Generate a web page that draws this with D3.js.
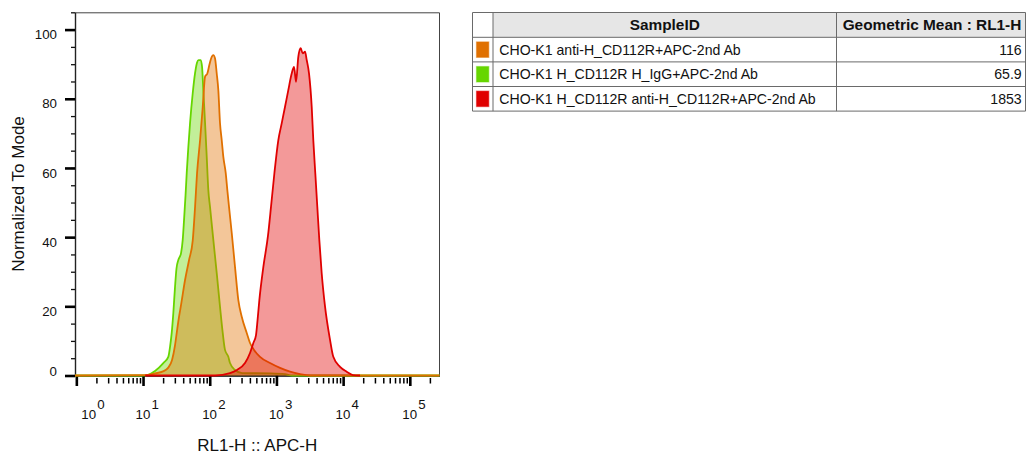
<!DOCTYPE html>
<html><head><meta charset="utf-8">
<script src="https://cdn.jsdelivr.net/npm/d3@7"></script>
<style>
html,body{margin:0;padding:0;background:#fff;}
svg{display:block;font-family:"Liberation Sans",Arial,Helvetica,sans-serif;}
</style></head><body>
<svg id="chart" width="1026" height="456"></svg>
<script>
// ---------- data ----------
const sampleIds = [
  "CHO-K1 anti-H_CD112R+APC-2nd Ab",
  "CHO-K1 H_CD112R H_IgG+APC-2nd Ab",
  "CHO-K1 H_CD112R anti-H_CD112R+APC-2nd Ab"
];
const geoMeans = ["116", "65.9", "1853"];
const sampleColors = ["#e07000", "#66d600", "#e00000"];
const drawOrder = [1, 0, 2];

// histogram bins: log10(RL1-H) positions and % of mode
const antiLog = [-0.02, 1.03, 1.18, 1.30, 1.375, 1.435, 1.48, 1.51, 1.54, 1.57, 1.63, 1.69, 1.745, 1.78, 1.81, 1.855, 1.895, 1.93, 1.964, 1.997, 2.03, 2.054, 2.079, 2.105, 2.129, 2.154, 2.18, 2.204, 2.24, 2.264, 2.289, 2.33, 2.379, 2.429, 2.48, 2.555, 2.604, 2.664, 2.754, 2.904, 3.054, 3.204, 3.354, 3.504, 5.445];
const antiPct = [0, 0.1, 0.6, 1.2, 2.2, 4.5, 8.8, 13, 17, 20.4, 27.6, 33.4, 39, 48.7, 58.5, 68, 77.6, 86.4, 87.3, 90, 92.1, 92.6, 91.7, 87.3, 82.5, 73, 68, 63.2, 58.5, 53.6, 48.8, 41.2, 31.4, 21.8, 17, 12.3, 9.4, 7.4, 5.4, 3.6, 2.2, 1.1, 0.4, 0, 0];

const iggLog = [-0.02, 1.0, 1.075, 1.18, 1.304, 1.379, 1.405, 1.43, 1.454, 1.48, 1.502, 1.529, 1.57, 1.595, 1.615, 1.637, 1.655, 1.679, 1.705, 1.745, 1.78, 1.81, 1.832, 1.865, 1.885, 1.904, 1.93, 1.955, 1.979, 2.004, 2.054, 2.105, 2.154, 2.195, 2.229, 2.279, 2.304, 2.379, 2.484, 2.904, 3.129, 3.234, 5.445];
const iggPct = [0, 0, 0.2, 1.3, 3.6, 5.4, 8.3, 12.3, 18, 25.7, 31, 33.4, 35.4, 39.2, 45, 52, 58.5, 66, 73, 81.6, 87.4, 90.5, 91.2, 91.2, 89.2, 82.5, 73, 63.2, 53.6, 48.8, 39.2, 29.6, 19.9, 12.3, 7.4, 5.4, 3.6, 1.6, 0.7, 0.6, 0.4, 0, 0];

const cdLog = [1.032, 2.079, 2.304, 2.409, 2.529, 2.604, 2.654, 2.694, 2.717, 2.744, 2.804, 2.874, 2.919, 2.969, 3.028, 3.079, 3.129, 3.178, 3.229, 3.264, 3.294, 3.328, 3.364, 3.394, 3.429, 3.454, 3.489, 3.529, 3.553, 3.583, 3.613, 3.643, 3.679, 3.729, 3.804, 3.853, 3.954, 4.054, 4.148, 4.253];
const cdPct = [0, 0, 0.7, 1.6, 3.6, 6.5, 9.4, 11.7, 16, 21.8, 31.4, 40.5, 48.8, 58.4, 68, 72.9, 77.7, 82.5, 87.3, 89.2, 84.9, 92.1, 94.6, 93.1, 93.6, 91.2, 87.3, 77.7, 68, 58.4, 48.8, 39.2, 29.5, 19.9, 10.3, 5.4, 2.5, 1.1, 0.1, 0];

const seriesLog = [antiLog, iggLog, cdLog];
const seriesPct = [antiPct, iggPct, cdPct];

const yMajorTicks = [0, 20, 40, 60, 80, 100];
const xMajorExp = [0, 1, 2, 3, 4, 5];
const xTitle = "RL1-H :: APC-H";
const yTitle = "Normalized To Mode";
const tableHeaders = ["SampleID", "Geometric Mean : RL1-H"];

// ---------- layout ----------
const FONT = '"Liberation Sans",Arial,Helvetica,sans-serif';
const svg = d3.select("#chart");
const plot = {left: 75, right: 439.5, top: 12.3, bottom: 375.5};

const x = d3.scaleLog()
  .domain([Math.pow(10, -0.02), Math.pow(10, 5.445)])
  .range([plot.left, plot.right]);
const y = d3.scaleLinear().domain([0, 105]).range([plot.bottom, plot.top]);

// frame (top/right)
svg.append("path")
  .attr("d", `M${plot.left},${plot.top + 0.5}H${plot.right}V${plot.bottom}`)
  .attr("fill", "none").attr("stroke", "#444").attr("stroke-width", 1);

// y axis
const yMinor = d3.range(0, 106, 5);
svg.append("g").attr("transform", `translate(${plot.left},0)`)
  .call(d3.axisLeft(y).tickValues(yMinor).tickSizeInner(4).tickSizeOuter(0).tickFormat(""))
  .call(g => g.select(".domain").attr("stroke", "#222").attr("stroke-width", 1.4))
  .call(g => g.selectAll(".tick line").attr("stroke", "#111").attr("stroke-width", 1.3));
svg.append("g").attr("transform", `translate(${plot.left},0)`)
  .call(d3.axisLeft(y).tickValues(yMajorTicks).tickSizeInner(10).tickSizeOuter(0).tickFormat(""))
  .call(g => g.select(".domain").remove())
  .call(g => g.selectAll(".tick line").attr("stroke", "#000").attr("stroke-width", 2.6));
svg.append("g").selectAll("text").data(yMajorTicks).join("text")
  .attr("x", 57)
  .attr("y", d => d === 0 ? y(d) : y(d) + 9.6)
  .attr("text-anchor", "end")
  .attr("font-size", 13.3).attr("fill", "#111")
  .text(d => d);

// x axis
const xMinor = [];
for (let e = 0; e <= 5; e++) for (let m = 2; m <= 9; m++) {
  const v = m * Math.pow(10, e);
  if (v <= x.domain()[1]) xMinor.push(v);
}
svg.append("g").attr("transform", `translate(0,${plot.bottom})`)
  .call(d3.axisBottom(x).tickValues([]).tickSizeOuter(0))
  .call(g => g.select(".domain").attr("stroke", "#000").attr("stroke-width", 1.4));
svg.append("g").attr("transform", `translate(0,${plot.bottom + 2.5})`)
  .call(d3.axisBottom(x).tickValues(xMinor).tickSizeInner(5.5).tickSizeOuter(0).tickFormat(""))
  .call(g => g.select(".domain").remove())
  .call(g => g.selectAll(".tick line").attr("stroke", "#000").attr("stroke-width", 1.5));
svg.append("g").attr("transform", `translate(0,${plot.bottom})`)
  .call(d3.axisBottom(x).tickValues(xMajorExp.map(e => Math.pow(10, e))).tickSizeInner(10.5).tickSizeOuter(0).tickFormat(""))
  .call(g => g.select(".domain").remove())
  .call(g => g.selectAll(".tick line").attr("stroke", "#000").attr("stroke-width", 2.6));
const xl = svg.append("g").selectAll("text").data(xMajorExp).join("text")
  .attr("x", d => x(Math.pow(10, d)) - 7.5 + (d === 0 ? 12.5 : 0))
  .attr("y", 419.3)
  .attr("font-size", 13.3).attr("fill", "#111");
xl.append("tspan").text("10");
xl.append("tspan").attr("dx", 1.2).attr("dy", -10.5).text(d => d);

// axis titles
svg.append("text").attr("x", (plot.left + plot.right) / 2).attr("y", 450.5)
  .attr("text-anchor", "middle").attr("font-size", 17).attr("fill", "#111").text(xTitle);
svg.append("text").attr("transform", `translate(24,194) rotate(-90)`)
  .attr("text-anchor", "middle").attr("font-size", 17).attr("fill", "#111").text(yTitle);

// histograms
const area = d3.area().curve(d3.curveMonotoneX)
  .x(d => x(Math.pow(10, d[0]))).y0(y(0)).y1(d => y(d[1]));
const line = d3.line().curve(d3.curveMonotoneX)
  .x(d => x(Math.pow(10, d[0]))).y(d => y(d[1]));
const hg = svg.append("g");
drawOrder.forEach(i => {
  const pts = seriesLog[i].map((l, k) => [l, seriesPct[i][k]]);
  hg.append("path").attr("d", area(pts))
    .attr("fill", sampleColors[i]).attr("fill-opacity", 0.4).attr("stroke", "none");
  hg.append("path").attr("d", line(pts))
    .attr("fill", "none").attr("stroke", sampleColors[i]).attr("stroke-width", 1.8)
    .attr("stroke-linejoin", "round");
});

// ---------- table ----------
const colX = [472.5, 493, 836.5, 1025.5];
const rowY = [12.5, 37.3, 61.9, 86.5, 111.1];
const tg = svg.append("g");
tg.append("rect").attr("x", colX[1]).attr("y", rowY[0])
  .attr("width", colX[3] - colX[1]).attr("height", rowY[1] - rowY[0]).attr("fill", "#e6e6e6");
rowY.forEach(ry => tg.append("line").attr("x1", colX[0]).attr("x2", colX[3])
  .attr("y1", ry).attr("y2", ry).attr("stroke", "#6a6a6a").attr("stroke-width", 1));
colX.forEach(cx => tg.append("line").attr("x1", cx).attr("x2", cx)
  .attr("y1", rowY[0]).attr("y2", rowY[rowY.length - 1]).attr("stroke", "#6a6a6a").attr("stroke-width", 1));
tg.append("text").attr("x", (colX[1] + colX[2]) / 2).attr("y", 30.3)
  .attr("text-anchor", "middle").attr("font-weight", "bold").attr("font-size", 15.4).attr("fill", "#111")
  .text(tableHeaders[0]);
tg.append("text").attr("x", 932).attr("y", 30.3)
  .attr("text-anchor", "middle").attr("font-weight", "bold").attr("font-size", 15.4).attr("fill", "#111")
  .text(tableHeaders[1]);
sampleIds.forEach((s, i) => {
  const mid = (rowY[i + 1] + rowY[i + 2]) / 2;
  tg.append("rect").attr("x", 476.5).attr("y", mid - 7.7).attr("width", 12.3).attr("height", 15.5)
    .attr("fill", sampleColors[i]).attr("stroke", sampleColors[i]).attr("stroke-opacity", 0.45).attr("stroke-width", 1.2);
  tg.append("text").attr("x", 499.3).attr("y", mid + 5).attr("font-size", 14.1).attr("fill", "#111").text(s);
  tg.append("text").attr("x", 1021.7).attr("y", mid + 5).attr("text-anchor", "end")
    .attr("font-size", 14.1).attr("fill", "#111").text(geoMeans[i]);
});
</script>
</body></html>
